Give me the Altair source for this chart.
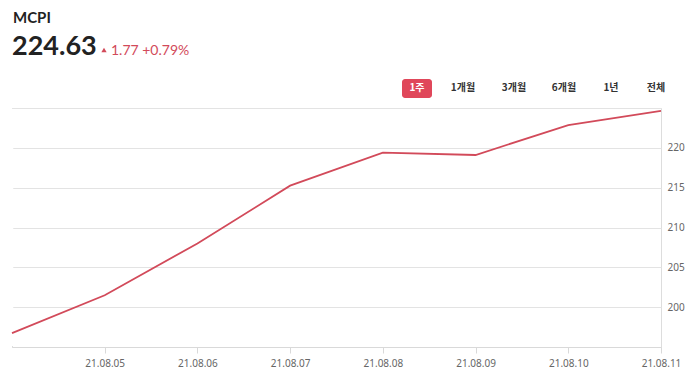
import altair as alt
import pandas as pd

# ---- data ----
dates = ["2021-08-04", "2021-08-05", "2021-08-06", "2021-08-07",
         "2021-08-08", "2021-08-09", "2021-08-10", "2021-08-11"]
values = [196.75, 201.5, 208.0, 215.25, 219.4, 219.1, 222.86, 224.63]
y_ticks = [195, 200, 205, 210, 215, 220, 225]
x_tick_days = [5, 6, 7, 8, 9, 10, 11]

title_text = "MCPI"
price_text = "224.63"
change_text = "1.77 +0.79%"
buttons = ["1주", "1개월", "3개월", "6개월", "1년", "전체"]
button_x = [405, 451, 502, 552, 599, 644]

RED = "#d24a5a"
W, H = 649, 239

df = pd.DataFrame({"date": dates, "value": values})

line = alt.Chart(df).mark_line(color=RED, strokeWidth=1.8).encode(
    x=alt.X("date:T",
            scale=alt.Scale(type="utc", domain=[alt.DateTime(year=2021, month=8, date=4, utc=True),
                                                 alt.DateTime(year=2021, month=8, date=11, utc=True)]),
            axis=alt.Axis(title=None,
                          labelExpr="utcFormat(datum.value, '%y.%m.%d')",
                          values=[alt.DateTime(year=2021, month=8, date=d, utc=True) for d in x_tick_days],
                          grid=False, domainColor="#d9d9d9", tickColor="#d9d9d9", tickSize=6,
                          labelFont="Noto Sans", labelFontSize=10, labelColor="#666",
                          labelPadding=5, labelAlign="center")),
    y=alt.Y("value:Q",
            scale=alt.Scale(domain=[195, 225], nice=False, zero=False),
            axis=alt.Axis(title=None, orient="right", values=y_ticks,
                          labelExpr="datum.value == 195 || datum.value == 225 ? '' : datum.label",
                          grid=True, gridColor="#e3e3e3", domain=False, ticks=False,
                          labelFont="Noto Sans", labelFontSize=10, labelColor="#666",
                          labelPadding=6)),
)

one = pd.DataFrame({"t": [1]})

# cover a stray left edge line of the view
edge_cover = alt.Chart(one).mark_rule(color="white", strokeWidth=2.5).encode(
    x=alt.value(0), y=alt.value(1), y2=alt.value(H - 1))

title_layer = alt.Chart(one).mark_text(
    align="left", baseline="middle", font="Lato", fontSize=15, fontWeight="bold", color="#222",
    text=title_text
).encode(x=alt.value(1), y=alt.value(-90))

price_layer = alt.Chart(one).mark_text(
    align="left", baseline="middle", font="Lato", fontSize=27, fontWeight="bold", color="#222",
    text=price_text
).encode(x=alt.value(0), y=alt.value(-61))

tri_layer = alt.Chart(one).mark_point(
    shape="triangle-up", filled=True, color=RED, size=28, opacity=1, strokeWidth=0
).encode(x=alt.value(92), y=alt.value(-58))

change_layer = alt.Chart(one).mark_text(
    align="left", baseline="middle", font="Lato", fontSize=14, color=RED, text=change_text
).encode(x=alt.value(99), y=alt.value(-57))

btn_rect = alt.Chart(one).mark_rect(
    color="#e0475a", cornerRadius=3
).encode(x=alt.value(390), x2=alt.value(420), y=alt.value(-29), y2=alt.value(-10))

btn_layers = []
for i, (lab, bx) in enumerate(zip(buttons, button_x)):
    btn_layers.append(
        alt.Chart(one).mark_text(
            align="center", baseline="middle", font="Noto Sans CJK KR", fontSize=10,
            fontWeight="bold", color="white" if i == 0 else "#333", text=lab
        ).encode(x=alt.value(bx), y=alt.value(-20))
    )

chart = alt.layer(edge_cover, line, title_layer, price_layer, tri_layer, change_layer, btn_rect, *btn_layers).properties(
    width=W, height=H,
    autosize=alt.AutoSizeParams(type="none"),
    padding={"left": 4, "top": 100, "right": 31, "bottom": 25},
).configure_view(stroke="transparent", strokeWidth=0).configure(background="white")

chart.save("out.html", embed_options={"renderer": "svg", "actions": False})
